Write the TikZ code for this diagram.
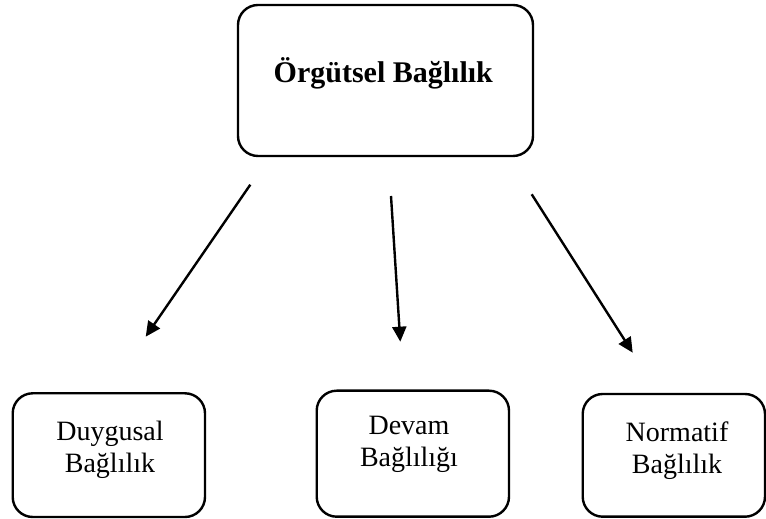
\documentclass[tikz,border=0pt]{standalone}
\usepackage{fontspec}
\setmainfont{Liberation Serif}
\usetikzlibrary{arrows.meta}
\tikzset{
  boxnode/.style={draw=black, line width=2.4pt, rounded corners=20pt, fill=white, inner sep=0pt},
  lbl/.style={align=center, inner sep=0pt, font=\fontsize{28}{32}\selectfont},
  ttl/.style={inner sep=0pt, font=\fontsize{30}{34}\selectfont\bfseries},
  conn/.style={line width=2.4pt, -{Triangle[length=15pt,width=14pt]}}
}
\begin{document}
\begin{tikzpicture}[x=1pt,y=1pt]
\useasboundingbox (0,0) rectangle (766,519);
% boxes (y = 519 - pixel y)
\node[boxnode, minimum width=295pt, minimum height=151pt] (top) at (385.5,438.5) {};
\node[boxnode, minimum width=192.3pt, minimum height=123.7pt] (left) at (108.85,63.85) {};
\node[boxnode, minimum width=192.3pt, minimum height=126pt] (mid) at (412.85,65.3) {};
\node[boxnode, minimum width=182.3pt, minimum height=122.7pt] (right) at (673.85,63.65) {};
% texts
\node[ttl] (toptext) at (383.3,446) {Örgütsel Bağlılık};
\node[lbl] (lefttext) at (110,69) {Duygusal\\Bağlılık};
\node[lbl] (midtext) at (409,74.5) {Devam\\Bağlılığı};
\node[lbl] (righttext) at (677,68) {Normatif\\Bağlılık};
% arrow ends
\coordinate (a1s) at (250.3,334.3);
\coordinate (a1e) at (145.7,182.3);
\coordinate (a2s) at (391,323);
\coordinate (a2e) at (400.3,177.3);
\coordinate (a3s) at (531.7,324.7);
\coordinate (a3e) at (632.7,166.3);
\draw[conn] (a1s) -- (a1e);
\draw[conn] (a2s) -- (a2e);
\draw[conn] (a3s) -- (a3e);
\end{tikzpicture}
\end{document}
